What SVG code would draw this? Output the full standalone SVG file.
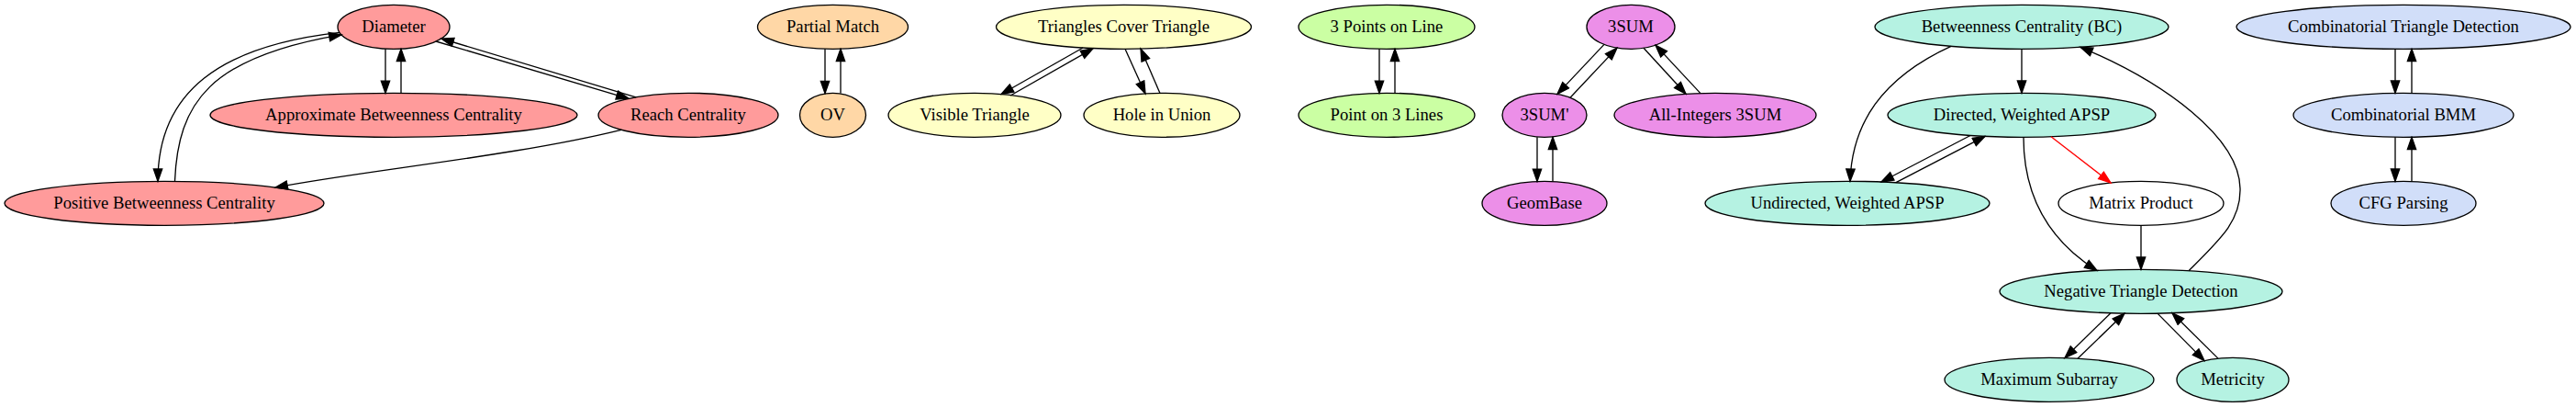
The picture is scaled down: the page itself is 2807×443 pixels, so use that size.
<svg xmlns="http://www.w3.org/2000/svg" width="2807" height="443" viewBox="0 0 2807 443">
<defs>
<style>
.n ellipse{stroke:#000;stroke-width:1.33}
.n text{font-family:"Liberation Serif","Times New Roman",serif;font-size:18.67px;text-anchor:middle;fill:#000}
.r ellipse{fill:#ff9b9b}
.o ellipse{fill:#ffd7a6}
.y ellipse{fill:#ffffc6}
.g ellipse{fill:#cbffa3}
.v ellipse{fill:#ec8fe8}
.t ellipse{fill:#b5f2e2}
.b ellipse{fill:#d1def9}
.w ellipse{fill:#fff}
#edges path{fill:none;stroke:#000;stroke-width:1.33;marker-end:url(#ah)}
#edges path.red{stroke:#f00;marker-end:url(#ahr)}
</style>
<marker id="ah" viewBox="-1 -1 16 12" refX="13.3" refY="4.67" markerWidth="16" markerHeight="12" orient="auto" markerUnits="userSpaceOnUse"><path d="M0,0 L13.3,4.67 L0,9.33 z" fill="#000" stroke="#000" stroke-width="1.33"/></marker>
<marker id="ahr" viewBox="-1 -1 16 12" refX="13.3" refY="4.67" markerWidth="16" markerHeight="12" orient="auto" markerUnits="userSpaceOnUse"><path d="M0,0 L13.3,4.67 L0,9.33 z" fill="#f00" stroke="#f00" stroke-width="1.33"/></marker>
</defs>
<rect width="2807" height="443" fill="#fff"/>

<g id="diameter" class="n r"><ellipse cx="429" cy="29.3" rx="61" ry="24"/><text x="429" y="35.3">Diameter</text></g>
<g id="approx-bc" class="n r"><ellipse cx="429" cy="125.3" rx="200" ry="24"/><text x="429" y="131.3">Approximate Betweenness Centrality</text></g>
<g id="reach" class="n r"><ellipse cx="750" cy="125.3" rx="98" ry="24"/><text x="750" y="131.3">Reach Centrality</text></g>
<g id="positive-bc" class="n r"><ellipse cx="179" cy="221.3" rx="174" ry="24"/><text x="179" y="227.3">Positive Betweenness Centrality</text></g>

<g id="partial-match" class="n o"><ellipse cx="907.5" cy="29.3" rx="82" ry="24"/><text x="907.5" y="35.3">Partial Match</text></g>
<g id="ov" class="n o"><ellipse cx="907.5" cy="125.3" rx="36" ry="24"/><text x="907.5" y="131.3">OV</text></g>

<g id="tri-cover" class="n y"><ellipse cx="1224.5" cy="29.3" rx="139" ry="24"/><text x="1224.5" y="35.3">Triangles Cover Triangle</text></g>
<g id="visible-tri" class="n y"><ellipse cx="1062" cy="125.3" rx="94" ry="24"/><text x="1062" y="131.3">Visible Triangle</text></g>
<g id="hole-union" class="n y"><ellipse cx="1266" cy="125.3" rx="85" ry="24"/><text x="1266" y="131.3">Hole in Union</text></g>

<g id="points-line" class="n g"><ellipse cx="1511" cy="29.3" rx="96" ry="24"/><text x="1511" y="35.3">3 Points on Line</text></g>
<g id="point-lines" class="n g"><ellipse cx="1511" cy="125.3" rx="96" ry="24"/><text x="1511" y="131.3">Point on 3 Lines</text></g>

<g id="3sum" class="n v"><ellipse cx="1777" cy="29.3" rx="48" ry="24"/><text x="1777" y="35.3">3SUM</text></g>
<g id="3sum-prime" class="n v"><ellipse cx="1683" cy="125.3" rx="46" ry="24"/><text x="1683" y="131.3">3SUM'</text></g>
<g id="all-int-3sum" class="n v"><ellipse cx="1869" cy="125.3" rx="110" ry="24"/><text x="1869" y="131.3">All-Integers 3SUM</text></g>
<g id="geombase" class="n v"><ellipse cx="1683" cy="221.3" rx="68" ry="24"/><text x="1683" y="227.3">GeomBase</text></g>

<g id="bc" class="n t"><ellipse cx="2203" cy="29.3" rx="160" ry="24"/><text x="2203" y="35.3">Betweenness Centrality (BC)</text></g>
<g id="directed-apsp" class="n t"><ellipse cx="2203" cy="125.3" rx="146" ry="24"/><text x="2203" y="131.3">Directed, Weighted APSP</text></g>
<g id="undirected-apsp" class="n t"><ellipse cx="2013" cy="221.3" rx="155" ry="24"/><text x="2013" y="227.3">Undirected, Weighted APSP</text></g>
<g id="matrix-product" class="n w"><ellipse cx="2333" cy="221.3" rx="90" ry="24"/><text x="2333" y="227.3">Matrix Product</text></g>
<g id="neg-tri" class="n t"><ellipse cx="2333" cy="317.3" rx="154" ry="24"/><text x="2333" y="323.3">Negative Triangle Detection</text></g>
<g id="max-subarray" class="n t"><ellipse cx="2233" cy="413.3" rx="114" ry="24"/><text x="2233" y="419.3">Maximum Subarray</text></g>
<g id="metricity" class="n t"><ellipse cx="2433" cy="413.3" rx="61" ry="24"/><text x="2433" y="419.3">Metricity</text></g>

<g id="comb-tri" class="n b"><ellipse cx="2619" cy="29.3" rx="182" ry="24"/><text x="2619" y="35.3">Combinatorial Triangle Detection</text></g>
<g id="comb-bmm" class="n b"><ellipse cx="2619" cy="125.3" rx="120" ry="24"/><text x="2619" y="131.3">Combinatorial BMM</text></g>
<g id="cfg" class="n b"><ellipse cx="2619" cy="221.3" rx="79" ry="24"/><text x="2619" y="227.3">CFG Parsing</text></g>

<g id="edges">
<path d="M420,53.2 L420,101.4"/>
<path d="M437,101.4 L437,53.2"/>
<path d="M475,45 L685,107.3"/>
<path d="M693,105.8 L481,42"/>
<path d="M370,35.4 C240,50 172,100 172,197.3"/>
<path d="M190.5,197.3 C194,112 228,62 372,37.8"/>
<path d="M677,141.3 C560,170 400,185 300,204.1"/>

<path d="M899,53.2 L899,101.6"/>
<path d="M916,101.6 L916,53.2"/>

<path d="M1180,52 L1091,102.5"/>
<path d="M1101,104 L1191,52.8"/>
<path d="M1226,53.3 L1248,101.9"/>
<path d="M1264,101.4 L1243,53.1"/>

<path d="M1503,53.2 L1503,101.4"/>
<path d="M1520,101.4 L1520,53.2"/>

<path d="M1748,48.4 L1697,102.4"/>
<path d="M1711,106.3 L1762,52.1"/>
<path d="M1791,52.3 L1837,102.3"/>
<path d="M1853,101.6 L1804,49.1"/>
<path d="M1675,149.2 L1675,197.4"/>
<path d="M1692,197.4 L1692,149.2"/>

<path d="M2203,53.3 L2203,101.3"/>
<path d="M2126,50.3 C2050,85 2018,135 2016,197.3"/>
<path d="M2147,147.5 L2050,198"/>
<path d="M2066,198.7 L2163,148.4"/>
<path class="red" d="M2235,148.7 L2300,199"/>
<path d="M2205,149.3 C2205,210 2230,260 2285,294.5"/>
<path d="M2333,245.3 L2333,293.3"/>
<path d="M2385,294.7 C2420,260 2442,240 2441,205 C2440,150 2360,90 2267,51.3"/>
<path d="M2300,340.7 L2250,389.6"/>
<path d="M2264,390.2 L2315,341.1"/>
<path d="M2351,341.1 L2402,392.6"/>
<path d="M2417,390.1 L2367,340.7"/>

<path d="M2610,53.3 L2610,101.3"/>
<path d="M2628,101.3 L2628,53.3"/>
<path d="M2610,149.3 L2610,197.3"/>
<path d="M2628,197.3 L2628,149.3"/>
</g>
</svg>
